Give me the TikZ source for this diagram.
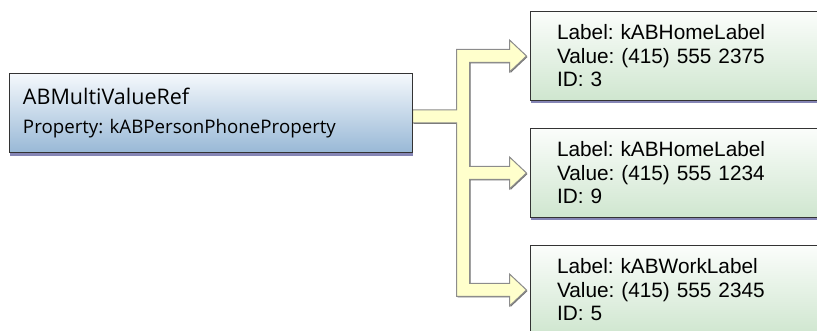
\documentclass[tikz,border=0pt]{standalone}
\usepackage{fontspec}
\setmainfont{Liberation Sans}
\newfontfamily\myriadlike{Open Sans}
\frenchspacing
\usetikzlibrary{calc,shadows}
\definecolor{bluetop}{HTML}{F4F8FC}
\definecolor{bluebot}{HTML}{98B8D6}
\definecolor{greentop}{HTML}{FBFDFB}
\definecolor{greenbot}{HTML}{CFE6CF}
\definecolor{shadowpurple}{HTML}{8585B5}
\definecolor{arrowfill}{HTML}{FFFFCC}
\definecolor{arrowline}{HTML}{8C8C8C}
\pgfdeclarelayer{background}
\pgfsetlayers{background,main}
\tikzset{
  srcbox/.style={draw=black!80, line width=1pt, minimum width=403pt, minimum height=79pt,
    inner xsep=14pt, inner ysep=0pt, text width=375pt, align=left,
    top color=bluetop, bottom color=bluebot,
    drop shadow={shadow xshift=1pt, shadow yshift=-3pt, fill=shadowpurple, opacity=1},
    font=\myriadlike\fontsize{18.7}{29}\selectfont},
  valbox/.style={draw=black!80, line width=1pt, minimum width=300pt, minimum height=89pt,
    inner xsep=27pt, inner ysep=0pt, text width=246pt, align=left,
    top color=greentop, bottom color=greenbot,
    drop shadow={shadow xshift=1pt, shadow yshift=-3pt, fill=shadowpurple, opacity=1},
    font=\fontsize{20.8}{23.5}\selectfont},
  fatarrow/.style={fill=arrowfill, draw=arrowline, line width=1pt, line join=miter,
    drop shadow={shadow xshift=1pt, shadow yshift=-1pt, fill=black!55, opacity=1}}
}
\begin{document}
\begin{tikzpicture}[x=1pt,y=-1pt]
\useasboundingbox (0,0) rectangle (817,331);
\node[srcbox] (src) at (210.5,113.5) {{\fontsize{21.5}{29}\selectfont ABMultiValueRef}\\Property: kABPersonPhoneProperty};
\node[valbox] (b1) at (680,56) {Label: kABHomeLabel\\Value: (415) 555 2375\\ID: 3};
\node[valbox] (b2) at (680,173) {Label: kABHomeLabel\\Value: (415) 555 1234\\ID: 9};
\node[valbox] (b3) at (680,290) {Label: kABWorkLabel\\Value: (415) 555 2345\\ID: 5};
\coordinate (s) at ($(src.east)+(0,3)$);
\coordinate (t1) at ($(b1.west)+(-3,0)$);
\coordinate (t2) at ($(b2.west)+(-3,0)$);
\coordinate (t3) at ($(b3.west)+(-3,0)$);
\begin{pgfonlayer}{background}
\draw[fatarrow] ($(s)+(0,-6.5)$) -- ($(t1 |- s)+(-70,-6.5)$) -- ($(t1)+(-70,-6.5)$)
  -- ($(t1)+(-17,-6.5)$) -- ($(t1)+(-17,-16)$) -- (t1) -- ($(t1)+(-17,16)$) -- ($(t1)+(-17,6.5)$)
  -- ($(t1)+(-57,6.5)$) -- ($(t2)+(-57,-6.5)$)
  -- ($(t2)+(-17,-6.5)$) -- ($(t2)+(-17,-16)$) -- (t2) -- ($(t2)+(-17,16)$) -- ($(t2)+(-17,6.5)$)
  -- ($(t2)+(-57,6.5)$) -- ($(t3)+(-57,-6.5)$)
  -- ($(t3)+(-17,-6.5)$) -- ($(t3)+(-17,-16)$) -- (t3) -- ($(t3)+(-17,16)$) -- ($(t3)+(-17,6.5)$)
  -- ($(t3)+(-70,6.5)$) -- ($(t1 |- s)+(-70,6.5)$) -- ($(s)+(0,6.5)$) -- cycle;
\end{pgfonlayer}
\end{tikzpicture}
\end{document}
